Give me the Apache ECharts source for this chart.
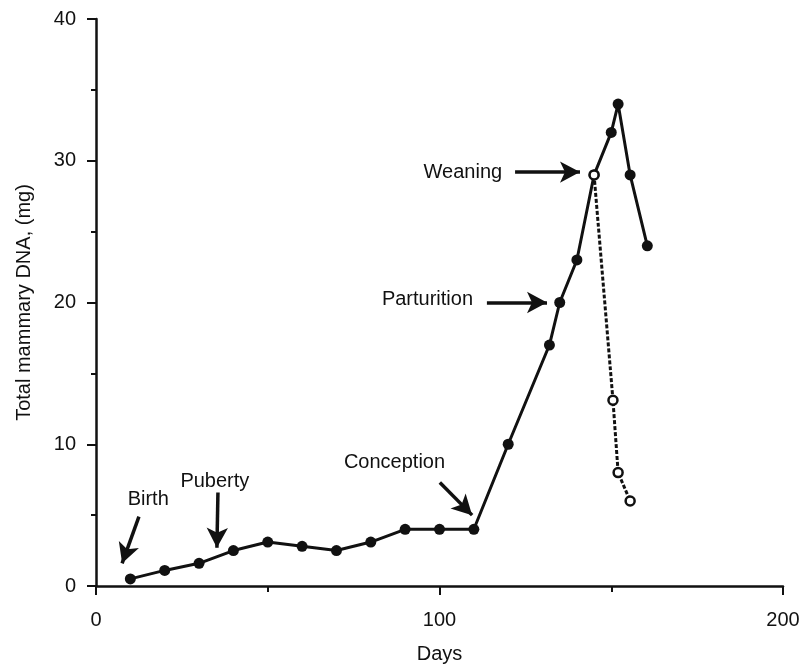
<!DOCTYPE html>
<html>
<head>
<meta charset="utf-8">
<script src="https://cdn.jsdelivr.net/npm/echarts@6/dist/echarts.min.js"></script>
<style>
  html, body { margin: 0; padding: 0; background: #fff; }
  #chart { width: 799px; height: 664px; }
</style>
</head>
<body>
<div id="chart"></div>
<script>
// total DNA, main course (days, mg)
const dna_main = [
    [10, 0.5], [20, 1.1], [30, 1.6], [40, 2.5], [50, 3.1], [60, 2.8], [70, 2.5],
    [80, 3.1], [90, 4], [100, 4], [110, 4], [120, 10], [132, 17], [135, 20],
    [140, 23], [145, 29], [150, 32], [152, 34], [155.5, 29], [160.5, 24]
];
// after weaning (open circles, dashed)
const dna_weaned = [[145, 29], [150.5, 13.1], [152, 8], [155.5, 6]];

const note_names = ['Birth', 'Puberty', 'Conception', 'Parturition', 'Weaning'];
const note_text_pos = [[15.2, 6.1], [34.6, 7.4], [86.9, 8.7], [96.5, 20.2], [106.8, 29.2]];
const note_arrow_from = [[12.5, 4.9], [35.5, 6.6], [100.1, 7.3], [113.8, 20], [122, 29.2]];
const note_arrow_to = [[7.6, 1.6], [35.2, 2.7], [109.5, 5], [131.3, 20], [140.9, 29.2]];

const x_ticks = [0, 100, 200];
const y_ticks = [0, 10, 20, 30, 40];

const ink = '#111';
const font = 'Liberation Sans, Arial, sans-serif';

let chart = echarts.init(document.getElementById('chart'));
chart.setOption({
    animation: false,
    backgroundColor: '#fff',
    grid: { left: 96, right: 16, top: 19, bottom: 78, outerBoundsMode: 'none' },
    xAxis: {
        type: 'value', min: 0, max: 200, interval: 100,
        name: 'Days', nameLocation: 'middle', nameGap: 58,
        nameTextStyle: { color: ink, fontSize: 20, fontFamily: font },
        axisLine: { lineStyle: { color: ink, width: 2.5 } },
        axisTick: { length: 9, lineStyle: { color: ink, width: 2 } },
        minorTick: { show: true, splitNumber: 2, length: 6, lineStyle: { color: ink, width: 2 } },
        axisLabel: { color: ink, fontSize: 20, fontFamily: font, margin: 24,
            formatter: v => x_ticks.includes(v) ? String(v) : '' },
        splitLine: { show: false }
    },
    yAxis: {
        type: 'value', min: 0, max: 40, interval: 10,
        name: 'Total mammary DNA, (mg)', nameLocation: 'middle', nameGap: 62,
        nameTextStyle: { color: ink, fontSize: 20, fontFamily: font },
        axisLine: { show: true, lineStyle: { color: ink, width: 2.5 } },
        axisTick: { show: true, length: 9, lineStyle: { color: ink, width: 2 } },
        minorTick: { show: true, splitNumber: 2, length: 5, lineStyle: { color: ink, width: 2 } },
        axisLabel: { color: ink, fontSize: 20, fontFamily: font, margin: 20,
            formatter: v => y_ticks.includes(v) ? String(v) : '' },
        splitLine: { show: false }
    },
    series: [
        {
            name: 'main', type: 'line', data: dna_main, z: 3,
            symbol: 'circle', symbolSize: 11,
            lineStyle: { color: ink, width: 3 },
            itemStyle: { color: ink },
            // arrows
            markLine: {
                silent: true,
                symbol: ['none', 'arrow'], symbolSize: [16, 20],
                lineStyle: { color: ink, width: 3.5, type: 'solid' },
                label: { show: false },
                data: note_names.map((n, i) => [
                    { coord: note_arrow_from[i] },
                    { coord: note_arrow_to[i] }
                ])
            },
            // arrow captions
            markPoint: {
                silent: true,
                symbol: 'circle', symbolSize: 1,
                itemStyle: { color: 'rgba(255,255,255,0)' },
                label: { show: true, position: 'inside', formatter: '{b}',
                    color: ink, fontSize: 20, fontFamily: font },
                data: note_names.map((n, i) => ({ name: n, coord: note_text_pos[i] }))
            }
        },
        {
            name: 'weaned', type: 'line', data: dna_weaned, z: 4,
            symbol: 'circle', symbolSize: 9,
            lineStyle: { color: ink, width: 3, type: [4, 2] },
            itemStyle: { color: '#fff', borderColor: ink, borderWidth: 2.5 }
        }
    ]
});
</script>
</body>
</html>
